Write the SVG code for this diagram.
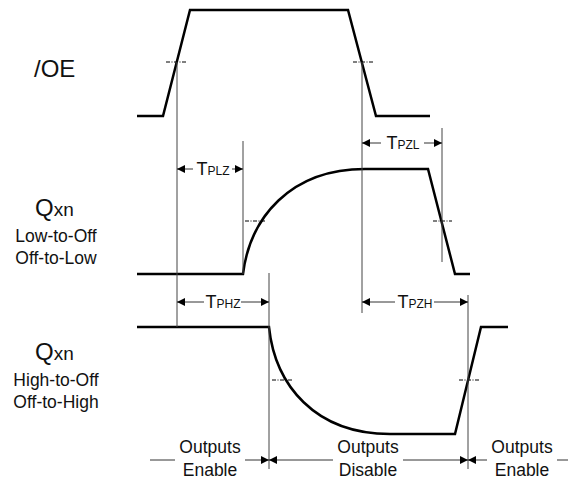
<svg xmlns="http://www.w3.org/2000/svg" width="568" height="487" viewBox="0 0 568 487">
<defs>
<marker id="ah" viewBox="0 0 10 10" refX="10" refY="5" markerWidth="10" markerHeight="8" markerUnits="userSpaceOnUse" orient="auto"><path d="M0,0 L10,5 L0,10 Z" fill="#000"/></marker>
<style>
.wave{fill:none;stroke:#000;stroke-width:2.5;stroke-linejoin:miter}
.guide{fill:none;stroke:#444;stroke-width:1}
.dim{fill:none;stroke:#333;stroke-width:1}
.arr{fill:none;stroke:#333;stroke-width:1;marker-end:url(#ah)}
.cross{fill:none;stroke:#000;stroke-width:1;stroke-dasharray:4 1.5 1 1.5}
.big{font-family:"Liberation Sans",Arial,sans-serif;font-size:24px;fill:#111}
.lbl{font-family:"Liberation Sans",Arial,sans-serif;font-size:17.5px;fill:#111;text-anchor:middle}
.t{font-family:"Liberation Sans",Arial,sans-serif;font-size:18px;fill:#111;text-anchor:middle}
.sub{font-size:12px}
</style>
</defs>
<rect width="568" height="487" fill="#fff"/>

<g id="labels">
<text class="big" x="34" y="77">/OE</text>
<text class="big" x="35" y="216">Q<tspan font-size="19">xn</tspan></text>
<text class="lbl" x="56" y="242">Low-to-Off</text>
<text class="lbl" x="56" y="264">Off-to-Low</text>
<text class="big" x="35" y="360">Q<tspan font-size="19">xn</tspan></text>
<text class="lbl" x="56" y="386">High-to-Off</text>
<text class="lbl" x="56" y="408">Off-to-High</text>
</g>

<g id="oe-wave">
<path class="wave" d="M137,116 H163 L190,10 H348 L376,116 H430"/>
<line class="cross" x1="166" y1="62" x2="186" y2="62"/>
<line class="cross" x1="353" y1="62" x2="373" y2="62"/>
</g>

<g id="qxn-low-wave">
<path class="wave" d="M137,274 H243 C250,218 290,169 365,169 H428 L455,274 H470"/>
<line class="cross" x1="245" y1="221" x2="265" y2="221"/>
<line class="cross" x1="433" y1="221" x2="452" y2="221"/>
</g>

<g id="qxn-high-wave">
<path class="wave" d="M137,327 H269 C275,385 315,434 390,434 H455 L481,327 H508"/>
<line class="cross" x1="272" y1="380" x2="292" y2="380"/>
<line class="cross" x1="459" y1="380" x2="479" y2="380"/>
</g>

<g id="connectors">
<line class="guide" x1="177" y1="62" x2="177" y2="327"/>
<line class="guide" x1="362" y1="62" x2="362" y2="313"/>
<line class="guide" x1="243" y1="141" x2="243" y2="274"/>
<line class="guide" x1="442" y1="128" x2="442" y2="262"/>
<line class="guide" x1="269" y1="273" x2="269" y2="469"/>
<line class="guide" x1="468" y1="295" x2="468" y2="469"/>

<line class="arr" x1="193" y1="169" x2="177" y2="169"/>
<line class="arr" x1="232" y1="169" x2="243" y2="169"/>
<line class="arr" x1="381" y1="143" x2="362" y2="143"/>
<line class="arr" x1="424" y1="143" x2="442" y2="143"/>
<line class="arr" x1="204" y1="302" x2="177" y2="302"/>
<line class="arr" x1="241" y1="302" x2="269" y2="302"/>
<line class="arr" x1="395" y1="302" x2="362" y2="302"/>
<line class="arr" x1="434" y1="302" x2="468" y2="302"/>

<line class="dim" x1="150" y1="460" x2="175" y2="460"/>
<line class="arr" x1="245" y1="460" x2="269" y2="460"/>
<line class="arr" x1="333" y1="460" x2="269" y2="460"/>
<line class="arr" x1="403" y1="460" x2="468" y2="460"/>
<line class="arr" x1="487" y1="460" x2="468" y2="460"/>
<line class="dim" x1="557" y1="460" x2="568" y2="460"/>
</g>

<g id="timing-labels">
<text class="t" x="213" y="175">T<tspan class="sub">PLZ</tspan></text>
<text class="t" x="403" y="149">T<tspan class="sub">PZL</tspan></text>
<text class="t" x="223" y="308">T<tspan class="sub">PHZ</tspan></text>
<text class="t" x="415" y="308">T<tspan class="sub">PZH</tspan></text>
</g>

<g id="phase-labels">
<text class="lbl" x="210" y="453">Outputs</text>
<text class="lbl" x="210" y="476">Enable</text>
<text class="lbl" x="368" y="453">Outputs</text>
<text class="lbl" x="368" y="476">Disable</text>
<text class="lbl" x="522" y="453">Outputs</text>
<text class="lbl" x="522" y="476">Enable</text>
</g>
</svg>
